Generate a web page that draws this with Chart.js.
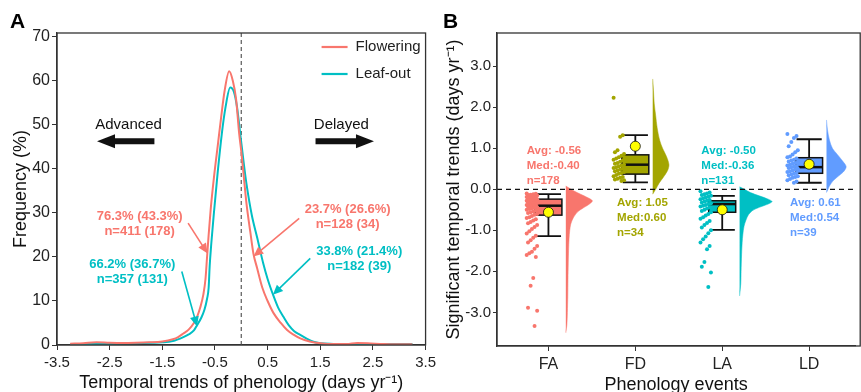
<!DOCTYPE html>
<html>
<head>
<meta charset="utf-8">
<script src="https://cdn.jsdelivr.net/npm/chart.js@4.4.1/dist/chart.umd.min.js"></script>
<style>
  html, body { margin: 0; padding: 0; background: #fff; }
  #wrap { position: relative; width: 861px; height: 392px; overflow: hidden; }
  canvas { position: absolute; top: 0; }
</style>
</head>
<body>
<div id="wrap">
  <canvas id="chartA" width="440" height="392" style="left:0"></canvas>
  <canvas id="chartB" width="431" height="392" style="left:430px"></canvas>
</div>
<script>
// ---- panel A : frequency of temporal trends (%) ----
const flowerX = [-3.25,-3.0,-2.75,-2.5,-2.25,-2.0,-1.75,-1.5,-1.3,-1.2,-1.1,-1.0,-0.9,-0.84,-0.78,-0.72,-0.68,-0.65,-0.62,-0.58,-0.52,-0.44,-0.38,-0.32,-0.23,-0.16,-0.1,-0.04,0.0,0.05,0.1,0.17,0.23,0.3,0.4,0.5,0.61,0.75,0.87,1.0,1.12,1.3,1.5,1.75,2.0,2.2,2.4,2.7,3.0,3.25]
const flowerY = [0.3,0.4,0.6,0.5,0.45,0.5,0.6,0.8,1.3,1.8,2.6,3.5,5.0,6.4,8.5,11.5,15,20,25,31,38,46,52,57.5,62.2,60,56,48,44,38,32,25.8,20.8,17.5,13,10,7.3,5,3.4,2.3,1.5,0.8,0.4,0.2,0.2,0.45,0.4,0.2,0.15,0.15]
const leafX = [-3.25,-3.0,-2.5,-2.0,-1.5,-1.3,-1.1,-1.0,-0.9,-0.84,-0.76,-0.7,-0.65,-0.62,-0.6,-0.57,-0.52,-0.45,-0.37,-0.3,-0.21,-0.14,-0.08,-0.02,0.05,0.1,0.2,0.3,0.42,0.5,0.61,0.7,0.8,0.9,1.0,1.12,1.25,1.37,1.5,1.75,2.0,2.5,3.0,3.25]
const leafY = [0.1,0.2,0.3,0.4,0.6,0.9,1.8,2.4,3.3,4.5,6.2,8,10.5,13,18,23,30,39,48,54,58.5,57.5,54,48,41,36.5,29.5,24.5,18.4,15,11.2,8.5,6.4,4.5,3.2,2.3,1.4,0.75,0.4,0.25,0.2,0.2,0.2,0.2]
const aXTicks = [-3.5,-2.5,-1.5,-0.5,0.5,1.5,2.5,3.5]
const aYTicks = [0,10,20,30,40,50,60,70]

// ---- panel B : significant temporal trends (days/yr) ----
const groups = ['FA','FD','LA','LD']
const groupColors = ['#F8766D','#A3A500','#00BFC4','#619CFF']
const faPoints = [-0.1,-0.11,-0.12,-0.13,-0.14,-0.15,-0.16,-0.17,-0.18,-0.19,-0.2,-0.21,-0.22,-0.23,-0.24,-0.25,-0.26,-0.27,-0.28,-0.29,-0.3,-0.31,-0.32,-0.33,-0.34,-0.35,-0.36,-0.38,-0.39,-0.4,-0.41,-0.42,-0.44,-0.45,-0.47,-0.48,-0.5,-0.52,-0.54,-0.56,-0.58,-0.6,-0.62,-0.65,-0.68,-0.7,-0.73,-0.76,-0.8,-0.83,-0.87,-0.92,-0.97,-1.02,-1.08,-1.13,-1.18,-1.24,-1.3,-1.38,-1.45,-1.52,-1.56,-1.6,-1.65,-2.16,-2.35,-2.89,-2.96,-3.33]
const fdPoints = [2.23,1.32,1.28,0.95,0.9,0.86,0.82,0.78,0.75,0.72,0.7,0.67,0.64,0.62,0.6,0.58,0.56,0.54,0.52,0.5,0.48,0.46,0.44,0.42,0.4,0.38,0.35,0.32,0.3,0.28,0.26,0.24,0.22,0.2]
const laPoints = [-0.05,-0.08,-0.1,-0.12,-0.14,-0.16,-0.18,-0.2,-0.22,-0.24,-0.26,-0.28,-0.3,-0.32,-0.34,-0.36,-0.38,-0.4,-0.42,-0.44,-0.47,-0.5,-0.53,-0.56,-0.6,-0.64,-0.68,-0.72,-0.77,-0.82,-0.87,-0.93,-1.0,-1.07,-1.15,-1.22,-1.3,-1.38,-1.46,-1.77,-1.89,-2.03,-2.38]
const ldPoints = [1.35,1.3,1.25,1.15,1.05,0.95,0.9,0.85,0.8,0.78,0.75,0.72,0.7,0.68,0.66,0.64,0.62,0.6,0.58,0.56,0.55,0.54,0.52,0.5,0.48,0.46,0.44,0.42,0.4,0.38,0.36,0.34,0.32,0.3,0.28,0.25,0.22,0.19,0.16]
const boxQ1 = [-0.63, 0.37, -0.56, 0.39]
const boxMed = [-0.40, 0.60, -0.36, 0.54]
const boxQ3 = [-0.24, 0.84, -0.28, 0.77]
const whiskLo = [-1.14, 0.17, -0.99, 0.16]
const whiskHi = [-0.12, 1.32, -0.16, 1.22]
const means = [-0.56, 1.05, -0.50, 0.61]
const counts = [178, 34, 131, 39]
// half violin profiles: value -> relative density
const faViolinY = [0.08,0.02,-0.05,-0.12,-0.2,-0.28,-0.36,-0.45,-0.55,-0.7,-0.85,-1.0,-1.2,-1.5,-1.8,-2.2,-2.6,-3.0,-3.3,-3.5]
const faViolinD = [0,4,9,15,22,27,24,18,12,7.5,5,4,3.3,2.8,2.5,2.2,2,1.6,1.1,0]
const fdViolinY = [2.69,2.4,2.1,1.8,1.5,1.2,1.0,0.8,0.6,0.45,0.3,0.15,0.0,-0.12]
const fdViolinD = [0,0.8,1.5,3,4.5,7,10,14,16.5,15,11,6.5,3,0]
const laViolinY = [0.06,0.0,-0.08,-0.16,-0.24,-0.3,-0.36,-0.44,-0.52,-0.62,-0.75,-0.9,-1.1,-1.3,-1.6,-2.0,-2.3,-2.6]
const laViolinD = [0,5,11,20,29,33,29,20,13,9,6.5,4.5,3.3,2.6,2,1.5,1.2,0]
const ldViolinY = [1.69,1.45,1.2,1.0,0.85,0.7,0.55,0.42,0.3,0.2,0.08,0.0,-0.08]
const ldViolinD = [0,1,3,6,11,16,20,17,11,6.5,3,1.5,0]
const bYTicks = [-3,-2,-1,0,1,2,3]

Chart.defaults.font.family = "'Liberation Sans', Arial, sans-serif"
Chart.defaults.color = '#222'

const RED = groupColors[0], TEAL = groupColors[2]

function arrow(ctx, x1, y1, x2, y2, color) {
    const ang = Math.atan2(y2 - y1, x2 - x1), head = 10, hw = 4.5
    const c = Math.cos(ang), s = Math.sin(ang)
    ctx.strokeStyle = color; ctx.fillStyle = color; ctx.lineWidth = 1.6
    ctx.beginPath(); ctx.moveTo(x1, y1); ctx.lineTo(x2 - c * head * 0.7, y2 - s * head * 0.7); ctx.stroke()
    ctx.beginPath(); ctx.moveTo(x2, y2)
    ctx.lineTo(x2 - c * head - s * hw, y2 - s * head + c * hw)
    ctx.lineTo(x2 - c * head + s * hw, y2 - s * head - c * hw)
    ctx.closePath(); ctx.fill()
}

function fatArrow(ctx, x1, x2, yy) {
    const dir = Math.sign(x2 - x1), hl = 18, hw = 7, sw = 3
    ctx.beginPath()
    ctx.moveTo(x1, yy - sw); ctx.lineTo(x2 - dir * hl, yy - sw); ctx.lineTo(x2 - dir * hl, yy - hw)
    ctx.lineTo(x2, yy); ctx.lineTo(x2 - dir * hl, yy + hw); ctx.lineTo(x2 - dir * hl, yy + sw)
    ctx.lineTo(x1, yy + sw); ctx.closePath(); ctx.fill()
}

// text + arrow notes of panel A (data coordinates)
const aNotes = [
    {lines: ['76.3% (43.3%)', 'n=411 (178)'], x: -1.93, y: 29.2, color: RED, from: [-1.01, 27.7], to: [-0.64, 20.8]},
    {lines: ['66.2% (36.7%)', 'n=357 (131)'], x: -2.07, y: 18.4, color: TEAL, from: [-1.13, 16.7], to: [-0.84, 4.2]},
    {lines: ['23.7% (26.6%)', 'n=128 (34)'], x: 2.02, y: 30.7, color: RED, from: [1.10, 28.8], to: [0.23, 20.1]},
    {lines: ['33.8% (21.4%)', 'n=182 (39)'], x: 2.24, y: 21.2, color: TEAL, from: [1.31, 19.7], to: [0.60, 11.4]}
]

const panelA = {
    id: 'panelA',
    beforeDatasetsDraw(chart) {
        const {ctx, chartArea: a, scales: {x}} = chart
        ctx.save()
        ctx.strokeStyle = '#666'; ctx.lineWidth = 1.3; ctx.setLineDash([4, 3])
        const zx = x.getPixelForValue(0)
        ctx.beginPath(); ctx.moveTo(zx, a.top); ctx.lineTo(zx, a.bottom); ctx.stroke()
        ctx.restore()
    },
    afterDraw(chart) {
        const {ctx, chartArea: a, scales: {x, y}} = chart
        ctx.save()
        // frame
        ctx.strokeStyle = '#333'; ctx.lineWidth = 1.3
        ctx.strokeRect(a.left, a.top, a.right - a.left, a.bottom - a.top)
        // legend
        ctx.font = "15px 'Liberation Sans', Arial, sans-serif"
        ctx.textBaseline = 'middle'; ctx.textAlign = 'left'
        chart.data.datasets.forEach((ds, i) => {
            const ly = a.top + 14 + i * 27
            ctx.strokeStyle = ds.borderColor; ctx.lineWidth = 2.2
            ctx.beginPath(); ctx.moveTo(a.right - 104, ly); ctx.lineTo(a.right - 78, ly); ctx.stroke()
            ctx.fillStyle = '#222'; ctx.fillText(ds.label, a.right - 70, ly)
        })
        // advanced / delayed
        ctx.textAlign = 'center'
        ctx.fillStyle = '#111'
        ctx.fillText('Advanced', x.getPixelForValue(-2.14), y.getPixelForValue(50))
        ctx.fillText('Delayed', x.getPixelForValue(1.9), y.getPixelForValue(50))
        fatArrow(ctx, x.getPixelForValue(-1.65), x.getPixelForValue(-2.74), y.getPixelForValue(46.3))
        fatArrow(ctx, x.getPixelForValue(1.41), x.getPixelForValue(2.52), y.getPixelForValue(46.3))
        // notes
        ctx.font = "bold 13px 'Liberation Sans', Arial, sans-serif"
        aNotes.forEach(n => {
            ctx.fillStyle = n.color
            n.lines.forEach((t, k) => ctx.fillText(t, x.getPixelForValue(n.x), y.getPixelForValue(n.y) + k * 15))
            arrow(ctx, x.getPixelForValue(n.from[0]), y.getPixelForValue(n.from[1]),
                x.getPixelForValue(n.to[0]), y.getPixelForValue(n.to[1]), n.color)
        })
        // panel letter
        ctx.fillStyle = '#000'; ctx.textAlign = 'left'; ctx.textBaseline = 'alphabetic'
        ctx.font = "bold 21px 'Liberation Sans', Arial, sans-serif"
        ctx.fillText('A', 10, 28)
        ctx.restore()
    }
}

new Chart(document.getElementById('chartA'), {
    type: 'line',
    data: {
        datasets: [
            {label: 'Flowering', data: flowerX.map((v, i) => ({x: v, y: flowerY[i]})), borderColor: RED, borderWidth: 2, pointRadius: 0, cubicInterpolationMode: 'monotone'},
            {label: 'Leaf-out', data: leafX.map((v, i) => ({x: v, y: leafY[i]})), borderColor: TEAL, borderWidth: 2, pointRadius: 0, cubicInterpolationMode: 'monotone'}
        ]
    },
    options: {
        responsive: false, animation: false, devicePixelRatio: 1,
        layout: {padding: {left: 0, right: 14, top: 33, bottom: 0}},
        plugins: {legend: {display: false}, tooltip: {enabled: false}},
        scales: {
            x: {
                type: 'linear', min: -3.5, max: 3.5,
                afterBuildTicks: s => { s.ticks = aXTicks.map(v => ({value: v})) },
                afterFit: s => { s.height = 47 },
                ticks: {callback: v => v.toFixed(1), font: {size: 15}, padding: 4, maxRotation: 0, color: '#222'},
                grid: {drawOnChartArea: false, tickLength: 5, color: '#333'},
                border: {color: '#333', width: 1.3},
                title: {display: true, text: 'Temporal trends of phenology (days yr⁻¹)', font: {size: 18, lineHeight: 1}, padding: 0, color: '#111'}
            },
            y: {
                min: 0, max: 70.9,
                afterBuildTicks: s => { s.ticks = aYTicks.map(v => ({value: v})) },
                afterFit: s => { s.width = 57 },
                ticks: {font: {size: 16}, padding: 2, color: '#222'},
                grid: {drawOnChartArea: false, tickLength: 5, color: '#333'},
                border: {color: '#333', width: 1.3},
                title: {display: true, text: 'Frequency (%)', font: {size: 18, lineHeight: 1}, padding: {top: 12, bottom: 0}, color: '#111'}
            }
        }
    },
    plugins: [panelA]
})

// ---- panel B ----
const pointSets = [faPoints, fdPoints, laPoints, ldPoints]
const violins = [[faViolinY, faViolinD], [fdViolinY, fdViolinD], [laViolinY, laViolinD], [ldViolinY, ldViolinD]]
const statX = [-0.25, -0.21, -0.24, -0.22]
const statY = [0.93, -0.32, 0.93, -0.32]
const PX_PER_UNIT = 88.3

const panelB = {
    id: 'panelB',
    beforeDatasetsDraw(chart) {
        const {ctx, scales: {x, y}} = chart
        ctx.save()
        groups.forEach((g, i) => {
            const cx = x.getPixelForValue(i + 1)
            const hw = x.getPixelForValue(i + 1.155) - cx
            const cw = x.getPixelForValue(i + 1.145) - cx
            const yq1 = y.getPixelForValue(boxQ1[i]), yq3 = y.getPixelForValue(boxQ3[i])
            const ylo = y.getPixelForValue(whiskLo[i]), yhi = y.getPixelForValue(whiskHi[i])
            ctx.strokeStyle = '#111'; ctx.lineWidth = 1.8
            ctx.beginPath()
            ctx.moveTo(cx, yhi); ctx.lineTo(cx, yq3)
            ctx.moveTo(cx, yq1); ctx.lineTo(cx, ylo)
            ctx.moveTo(cx - cw, yhi); ctx.lineTo(cx + cw, yhi)
            ctx.moveTo(cx - cw, ylo); ctx.lineTo(cx + cw, ylo)
            ctx.stroke()
            ctx.fillStyle = groupColors[i]
            ctx.fillRect(cx - hw, yq3, 2 * hw, yq1 - yq3)
            ctx.lineWidth = 1.5
            ctx.strokeRect(cx - hw, yq3, 2 * hw, yq1 - yq3)
            const ym = y.getPixelForValue(boxMed[i])
            ctx.lineWidth = 2.5
            ctx.beginPath(); ctx.moveTo(cx - hw, ym); ctx.lineTo(cx + hw, ym); ctx.stroke()
        })
        ctx.restore()
    },
    afterDatasetsDraw(chart) {
        const {ctx, chartArea: a, scales: {x, y}} = chart
        ctx.save()
        const zy = y.getPixelForValue(0)
        ctx.strokeStyle = '#111'; ctx.lineWidth = 1.3; ctx.setLineDash([5, 4])
        ctx.beginPath(); ctx.moveTo(a.left, zy); ctx.lineTo(a.right, zy); ctx.stroke()
        ctx.setLineDash([])
        ctx.font = "bold 11.5px 'Liberation Sans', Arial, sans-serif"
        ctx.textBaseline = 'middle'; ctx.textAlign = 'left'
        groups.forEach((g, i) => {
            ctx.fillStyle = groupColors[i]
            const tx = x.getPixelForValue(i + 1 + statX[i]), ty = y.getPixelForValue(statY[i])
            ctx.fillText('Avg: ' + means[i].toFixed(2), tx, ty)
            ctx.fillText('Med:' + boxMed[i].toFixed(2), tx, ty + 15)
            ctx.fillText('n=' + counts[i], tx, ty + 30)
        })
        ctx.restore()
    },
    afterDraw(chart) {
        const {ctx, chartArea: a} = chart
        ctx.save()
        ctx.strokeStyle = '#333'; ctx.lineWidth = 1.3
        ctx.strokeRect(a.left, a.top, a.right - a.left + 5, a.bottom - a.top)
        ctx.fillStyle = '#000'; ctx.textBaseline = 'alphabetic'; ctx.textAlign = 'left'
        ctx.font = "bold 21px 'Liberation Sans', Arial, sans-serif"
        ctx.fillText('B', 13, 28)
        ctx.restore()
    }
}

const bDatasets = [{
    label: 'mean', data: means.map((m, i) => ({x: i + 1, y: m})),
    pointRadius: 5, backgroundColor: '#FFFF00', borderColor: '#111', borderWidth: 0.8
}]
pointSets.forEach((pts, i) => {
    bDatasets.push({
        label: groups[i] + ' points',
        data: pts.map((v, k) => ({x: i + 1 - 0.19 + ((k * 7) % 9 - 4) * 0.015, y: v})),
        pointRadius: 2, backgroundColor: groupColors[i], borderWidth: 0
    })
})
violins.forEach(([vy, vd], i) => {
    bDatasets.push({
        label: groups[i] + ' density',
        data: vy.map((v, k) => ({x: i + 1.2 + vd[k] / PX_PER_UNIT, y: v})),
        showLine: true, fill: 'shape', pointRadius: 0, tension: 0.3,
        borderColor: groupColors[i], borderWidth: 0.5, backgroundColor: groupColors[i]
    })
})

new Chart(document.getElementById('chartB'), {
    type: 'scatter',
    data: {datasets: bDatasets},
    options: {
        responsive: false, animation: false, devicePixelRatio: 1,
        layout: {padding: {left: 0, right: 0, top: 33, bottom: 0}},
        plugins: {legend: {display: false}, tooltip: {enabled: false}},
        scales: {
            x: {
                type: 'linear', min: 0.408, max: 0.408 + 364 / PX_PER_UNIT,
                afterBuildTicks: s => { s.ticks = groups.map((g, i) => ({value: i + 1})) },
                afterFit: s => { s.height = 46 },
                ticks: {callback: v => groups[v - 1], font: {size: 16}, padding: 4, maxRotation: 0, color: '#222'},
                grid: {drawOnChartArea: false, tickLength: 5, color: '#333'},
                border: {color: '#333', width: 1.3},
                title: {display: true, text: 'Phenology events', font: {size: 18, lineHeight: 1}, padding: {top: 0, bottom: -2}, color: '#111'}
            },
            y: {
                min: -3.82, max: 3.81,
                afterBuildTicks: s => { s.ticks = bYTicks.map(v => ({value: v})) },
                afterFit: s => { s.width = 67 },
                ticks: {callback: v => v.toFixed(1), font: {size: 15}, padding: 2, color: '#222'},
                grid: {drawOnChartArea: false, tickLength: 4, color: '#333'},
                border: {color: '#333', width: 1.3},
                title: {display: true, text: 'Significant temporal trends (days yr⁻¹)', font: {size: 18, lineHeight: 1}, padding: {top: 15, bottom: 0}, color: '#111'}
            }
        }
    },
    plugins: [panelB]
})
</script>
</body>
</html>
